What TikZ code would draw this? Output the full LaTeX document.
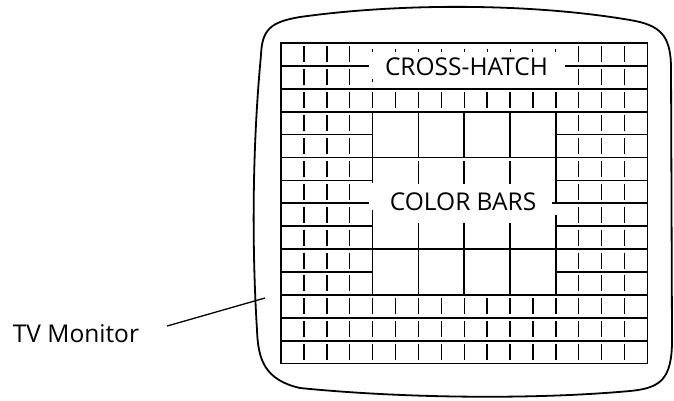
\documentclass[tikz,border=0pt]{standalone}
\usepackage{fontspec}
\setmainfont{Open Sans}
\begin{document}
\begin{tikzpicture}[x=1pt,y=-1pt,
  grid line/.style={line width=1.7pt},
  hatch/.style={line width=1.4pt,dash pattern=on 16pt off 6.9pt,dash phase=19.45pt},
  tick/.style={line width=1pt},
  label text/.style={font=\fontsize{24.5}{28}\selectfont,inner sep=0pt}]
  \useasboundingbox (0,0) rectangle (674,400);
  \draw[line width=1.8pt] (261,55) .. controls (262,30) and (270,22) .. (300,17)
    .. controls (400,3) and (530,3) .. (630,20)
    .. controls (660,25) and (670,35) .. (671,65)
    -- (672,340)
    .. controls (672,380) and (660,388) .. (630,391)
    .. controls (530,400) and (400,398) .. (300,388)
    .. controls (265,380) and (258,360) .. (257,330)
    .. controls (252,250) and (252,150) .. (261,55) -- cycle;
  \begin{scope}[shift={(281,43)},x=22.9pt,y=-22.9pt]
    \draw[grid line] (0,0) rectangle (16,14);
    \foreach \j in {2,3,5,9,11,12,13}
      \draw[grid line] (0,\j) -- (16,\j);
    \foreach \j in {4,6,8,10}
    {
      \draw[grid line] (0,\j) -- (4,\j);
      \draw[grid line] (12,\j) -- (16,\j);
    }
    \draw[grid line] (0,1) -- (3.83,1) (12.4,1) -- (16,1);
    \draw[grid line] (0,7) -- (3.85,7) (11.83,7) -- (16,7);
    \foreach \i in {1,2,3,13,14,15}
      \draw[hatch] (\i,0) -- (\i,14);
    \foreach \i in {4,...,12}
    {
      \draw[hatch] (\i,2) -- (\i,3);
      \draw[hatch] (\i,11) -- (\i,14);
      \draw[tick] (\i,0.25) -- (\i,0.4);
    }
    \draw[tick] (4,1.55) -- (4,1.7);
    \draw[grid line] (4,3) -- (4,6.1) (4,7.3) -- (4,11);
    \draw[grid line] (12,3) -- (12,7) (12,7.5) -- (12,11);
    \foreach \i in {6,8,10}
      \draw[grid line] (\i,3) -- (\i,5) (\i,5.15) -- (\i,6.15) (\i,7.85) -- (\i,11);
    \node[label text] (crosshatch) at (8.1,1.05) {CROSS-HATCH};
    \node[label text] (colorbars) at (7.95,6.95) {COLOR BARS};
  \end{scope}
  \node[label text] (monitor) at (76,334) {TV Monitor};
  \coordinate (screenedge) at (265,298);
  \draw[line width=1.3pt,shorten <=29pt] (monitor.east) -- (screenedge);
\end{tikzpicture}
\end{document}
